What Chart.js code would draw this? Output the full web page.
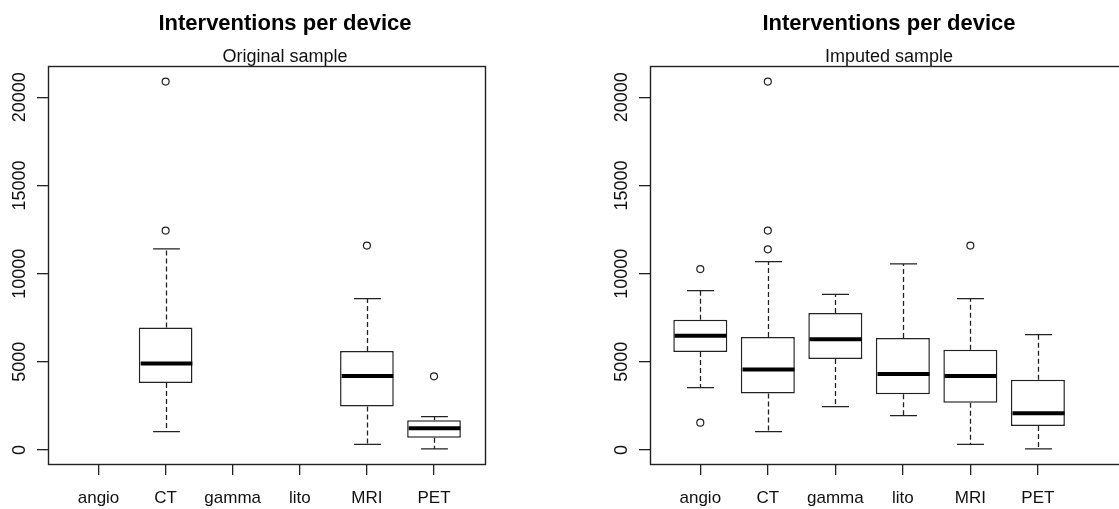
<!DOCTYPE html>
<html lang="en">
<head>
    <meta charset="UTF-8">
    <title>Interventions per device</title>
    <script src="https://cdn.jsdelivr.net/npm/chart.js@4.4.1/dist/chart.umd.min.js"></script>
    <style>
        html, body { margin: 0; padding: 0; background: #fff; overflow: hidden; width: 1119px; height: 509px; }
        canvas { position: absolute; top: 0; }
        #chartOriginal { left: 0; }
        #chartImputed { left: 560px; }
    </style>
</head>
<body>
<canvas id="chartOriginal" width="570" height="509"></canvas>
<canvas id="chartImputed" width="658" height="509"></canvas>
<script>
    const devices = ['angio', 'CT', 'gamma', 'lito', 'MRI', 'PET'];
    const yTicks = [0, 5000, 10000, 15000, 20000];

    // Original sample (null = no data for that device)
    const origLow      = [null, 1040, null, null, 320, 60];
    const origQ1       = [null, 3800, null, null, 2460, 700];
    const origMedian   = [null, 4910, null, null, 4200, 1230];
    const origQ3       = [null, 6940, null, null, 5610, 1680];
    const origHigh     = [null, 11400, null, null, 8580, 1890];
    const origOutliers = [[], [12440, 20890], [], [], [11590], [4180]];

    // Imputed sample
    const impLow      = [3540, 1040, 2460, 1950, 320, 60];
    const impQ1       = [5560, 3210, 5160, 3160, 2680, 1360];
    const impMedian   = [6480, 4570, 6280, 4310, 4200, 2080];
    const impQ3       = [7390, 6410, 7770, 6350, 5690, 3990];
    const impHigh     = [9040, 10680, 8830, 10550, 8580, 6540];
    const impOutliers = [[1550, 10260], [11380, 12440, 20890], [], [], [11590], []];

    const FONT = "'Liberation Sans', Arial, Helvetica, sans-serif";
    const INK = '#222';

    // whiskers, staples, medians, frame and rotated y labels, all through the chart scales
    const boxPlugin = {
        id: 'boxWhiskers',
        afterDatasetsDraw(chart, args, opts) {
            const { ctx, chartArea } = chart;
            const x = chart.scales.x, y = chart.scales.y;
            ctx.save();
            for (let i = 0; i < devices.length; i++) {
                if (opts.med[i] === null) continue;
                const xc = Math.round(x.getPixelForValue(i + 1)) + 0.5;
                const cap = x.getPixelForValue(i + 1.2) - x.getPixelForValue(i + 1);
                const half = x.getPixelForValue(i + 1.4) - x.getPixelForValue(i + 1);
                const yLow = y.getPixelForValue(opts.low[i]);
                const yHigh = y.getPixelForValue(opts.high[i]);
                const yQ1 = y.getPixelForValue(opts.q1[i]);
                const yQ3 = y.getPixelForValue(opts.q3[i]);
                const yMed = y.getPixelForValue(opts.med[i]);

                ctx.strokeStyle = INK;
                ctx.lineWidth = 1.3;
                ctx.setLineDash([5, 3]);
                ctx.beginPath();
                ctx.moveTo(xc, yQ3); ctx.lineTo(xc, yHigh);
                ctx.moveTo(xc, yQ1); ctx.lineTo(xc, yLow);
                ctx.stroke();
                ctx.setLineDash([]);

                ctx.beginPath();
                ctx.moveTo(xc - cap, yHigh); ctx.lineTo(xc + cap, yHigh);
                ctx.moveTo(xc - cap, yLow); ctx.lineTo(xc + cap, yLow);
                ctx.stroke();

                ctx.strokeStyle = '#000';
                ctx.lineWidth = 4;
                ctx.beginPath();
                ctx.moveTo(xc - half + 1, yMed); ctx.lineTo(xc + half - 1, yMed);
                ctx.stroke();
            }

            ctx.strokeStyle = INK;
            ctx.lineWidth = 1.4;
            ctx.strokeRect(Math.round(chartArea.left) + 0.5, Math.round(chartArea.top) + 0.5,
                chartArea.right - chartArea.left, chartArea.bottom - chartArea.top);

            ctx.fillStyle = '#111';
            ctx.font = '18px ' + FONT;
            ctx.textAlign = 'center';
            ctx.textBaseline = 'alphabetic';
            y.ticks.forEach(t => {
                ctx.save();
                ctx.translate(chartArea.left - 23.5, y.getPixelForValue(t.value));
                ctx.rotate(-Math.PI / 2);
                ctx.fillText(String(t.value), 0, 0);
                ctx.restore();
            });
            ctx.restore();
        }
    };

    function criarBoxplot(id, subtitulo, low, q1, med, q3, high, outliers, xMin, xMax, yWidth, rightGap) {
        const boxes = [];
        const pontos = [];
        devices.forEach((d, i) => {
            if (q1[i] !== null) boxes.push({ x: i + 1, y: [q1[i], q3[i]] });
            outliers[i].forEach(v => pontos.push({ x: i + 1, y: v }));
        });

        new Chart(document.getElementById(id), {
            type: 'bar',
            data: {
                datasets: [
                    {
                        type: 'scatter',
                        data: pontos,
                        pointRadius: 3.5,
                        pointBorderWidth: 1.2,
                        pointBorderColor: INK,
                        pointBackgroundColor: '#fff',
                        showLine: false
                    },
                    {
                        data: boxes,
                        backgroundColor: '#fff',
                        borderColor: INK,
                        borderWidth: 1.5,
                        borderSkipped: false,
                        categoryPercentage: 1,
                        barPercentage: 0.8
                    }
                ]
            },
            options: {
                responsive: false,
                animation: false,
                events: [],
                layout: { padding: 0 },
                plugins: {
                    legend: { display: false },
                    tooltip: { enabled: false },
                    title: {
                        display: true,
                        text: 'Interventions per device',
                        color: '#000',
                        font: { family: FONT, size: 22, weight: 'bold', lineHeight: 1.15 },
                        padding: { top: 11.15, bottom: 0 }
                    },
                    subtitle: {
                        display: true,
                        text: subtitulo,
                        color: '#111',
                        font: { family: FONT, size: 18, lineHeight: 0.95 },
                        padding: { top: 12.4, bottom: 0.05 }
                    },
                    boxWhiskers: { low: low, q1: q1, med: med, q3: q3, high: high }
                },
                scales: {
                    x: {
                        type: 'linear',
                        min: xMin,
                        max: xMax,
                        offset: false,
                        border: { display: false },
                        grid: { offset: false, drawOnChartArea: false, drawTicks: true, tickLength: 11, color: INK, lineWidth: 1.3 },
                        ticks: {
                            color: '#111',
                            font: { family: FONT, size: 17 },
                            padding: 13,
                            maxRotation: 0,
                            autoSkip: false,
                            callback: v => devices[v - 1]
                        },
                        afterBuildTicks: s => { s.ticks = devices.map((d, i) => ({ value: i + 1 })); },
                        afterFit: s => { s.height = 45; }
                    },
                    y: {
                        type: 'linear',
                        min: -794,
                        max: 21775,
                        border: { display: false },
                        grid: { drawOnChartArea: false, drawTicks: true, tickLength: 11, color: INK, lineWidth: 1.3 },
                        ticks: { display: false },
                        afterBuildTicks: s => { s.ticks = yTicks.map(v => ({ value: v })); },
                        afterFit: s => { s.width = yWidth; }
                    },
                    direita: {
                        type: 'linear',
                        position: 'right',
                        border: { display: false },
                        grid: { display: false },
                        ticks: { display: false },
                        afterFit: s => { s.width = rightGap; }
                    }
                }
            },
            plugins: [boxPlugin]
        });
    }

    criarBoxplot('chartOriginal', 'Original sample', origLow, origQ1, origMedian, origQ3, origHigh, origOutliers, 0.247, 6.76, 48, 85);
    criarBoxplot('chartImputed', 'Imputed sample', impLow, impQ1, impMedian, impQ3, impHigh, impOutliers, 0.255, 7.32, 90, 91);
</script>
</body>
</html>
